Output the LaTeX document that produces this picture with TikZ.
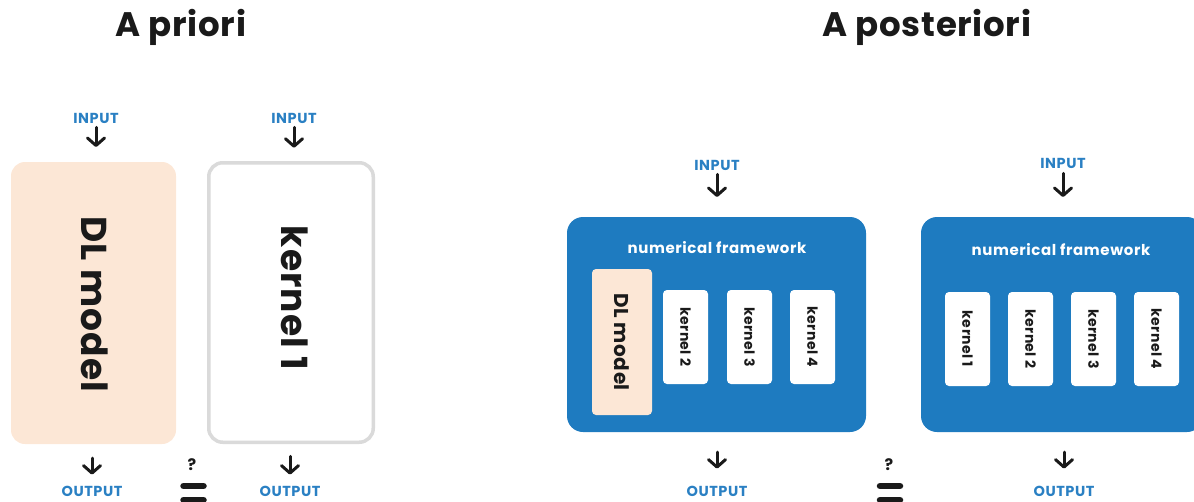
\documentclass[tikz,border=0pt]{standalone}
\usepackage{fontspec}
\setmainfont{Poppins}
\usetikzlibrary{arrows.meta}
\definecolor{fwblue}{HTML}{1E7BC0}
\definecolor{inblue}{HTML}{2A80C3}
\definecolor{peach}{HTML}{FCE7D6}
\definecolor{lgray}{HTML}{DADADA}
\definecolor{ink}{HTML}{1A1A1A}
\begin{document}
\begin{tikzpicture}[x=1pt,y=-1pt,
  title/.style={font=\fontsize{34}{40}\selectfont\bfseries\addfontfeatures{LetterSpace=2}, text=ink, inner sep=0},
  iolabel/.style={font=\fontsize{14.5}{17}\selectfont\bfseries\addfontfeatures{LetterSpace=4}, text=inblue, inner sep=0},
  fwtitle/.style={font=\fontsize{15}{18}\selectfont\bfseries\addfontfeatures{LetterSpace=4}, text=white, inner sep=0},
  bigtxt/.style={font=\fontsize{36}{43}\selectfont\bfseries\addfontfeatures{LetterSpace=3}, text=ink, rotate=-90, inner sep=0},
  smalltxt/.style={font=\fontsize{14}{17}\selectfont\bfseries\addfontfeatures{LetterSpace=3}, text=ink, rotate=-90, inner sep=0},
  midtxt/.style={font=\fontsize{20}{24}\selectfont\bfseries\addfontfeatures{LetterSpace=3}, text=ink, rotate=-90, inner sep=0},
  peachbox/.style={fill=peach, rounded corners=14, inner sep=0, outer sep=0},
  kbox/.style={fill=white, rounded corners=4, minimum width=45, minimum height=94, inner sep=0, outer sep=0},
  fwbox/.style={fill=fwblue, rounded corners=16, minimum height=215, inner sep=0, outer sep=0},
  arr/.style={draw=ink, line width=3, line cap=round, -{Straight Barb[length=7.5,width=17,line cap=round,line join=round]}},
  eqbar/.style={draw=ink, line width=6.5, line cap=round},
  qmark/.style={font=\fontsize{16}{19}\selectfont\bfseries, text=ink, inner sep=0}]
\useasboundingbox (0,0) rectangle (1194,501);
\clip (0,0) rectangle (1194,501);

% titles
\node[title] (t1) at (181,27) {A priori};
\node[title] (t2) at (927,27) {A posteriori};

% ---- A priori ----
\node[peachbox, minimum width=165, minimum height=282] (dl) at (93.5,303) {};
\node[bigtxt] (dltxt) at (95,304) {DL model};
\node[draw=lgray, line width=3.5, fill=white, rounded corners=14, minimum width=164.5, minimum height=279.5, inner sep=0, outer sep=0] (k1) at (291,302.5) {};
\node[bigtxt] (k1txt) at (295,298) {kernel 1};

\node[iolabel] (in1) at (96,118) {INPUT};
\node[iolabel] (in2) at (294,118) {INPUT};
\node[iolabel] (out1) at (92,491) {OUTPUT};
\node[iolabel] (out2) at (290,491) {OUTPUT};

\draw[arr, shorten <=4, shorten >=15] (in1.south) -- (in1.south |- dl.north);
\draw[arr, shorten <=4, shorten >=15] (in2.south) -- (in2.south |- k1.north);
\draw[arr, shorten <=14, shorten >=11] (out1.north |- dl.south) -- (out1.north);
\draw[arr, shorten <=14, shorten >=11] (out2.north |- k1.south) -- (out2.north);

\node[qmark] (q1) at (192,465) {?};
\draw[eqbar] (183.5,486) -- (203.5,486);
\draw[eqbar] (183.5,500) -- (203.5,500);

% ---- A posteriori: framework 1 ----
\node[fwbox, minimum width=299] (fw1) at (716.5,324.5) {};
\node[fwtitle] (fw1t) at (717,248) {numerical framework};
\node[fill=peach, rounded corners=4, minimum width=60, minimum height=146, inner sep=0, outer sep=0] (dls) at (622,342) {};
\node[midtxt] at (dls) {DL model};
\node[kbox] (a2) at (685.5,337) {};
\node[smalltxt] at (a2) {kernel 2};
\node[kbox] (a3) at (749.5,337) {};
\node[smalltxt] at (a3) {kernel 3};
\node[kbox] (a4) at (812.5,337) {};
\node[smalltxt] at (a4) {kernel 4};

\node[iolabel] (in3) at (717,165) {INPUT};
\node[iolabel] (out3) at (717,491) {OUTPUT};
\draw[arr, shorten <=4, shorten >=20] (in3.south) -- (in3.south |- fw1.north);
\draw[arr, shorten <=20, shorten >=17] (out3.north |- fw1.south) -- (out3.north);

\node[qmark] (q2) at (889,465) {?};
\draw[eqbar] (880,486) -- (900,486);
\draw[eqbar] (880,500) -- (900,500);

% ---- A posteriori: framework 2 ----
\node[fwbox, minimum width=282] (fw2) at (1062,324.5) {};
\node[fwtitle] (fw2t) at (1061,250) {numerical framework};
\node[kbox] (b1) at (967.5,339) {};
\node[smalltxt] at (b1) {kernel 1};
\node[kbox] (b2) at (1030.5,339) {};
\node[smalltxt] at (b2) {kernel 2};
\node[kbox] (b3) at (1093.5,339) {};
\node[smalltxt] at (b3) {kernel 3};
\node[kbox] (b4) at (1156.5,339) {};
\node[smalltxt] at (b4) {kernel 4};

\node[iolabel] (in4) at (1063,163) {INPUT};
\node[iolabel] (out4) at (1064,491) {OUTPUT};
\draw[arr, shorten <=5, shorten >=20] (in4.south) -- (in4.south |- fw2.north);
\draw[arr, shorten <=20, shorten >=17] (out4.north |- fw2.south) -- (out4.north);
\end{tikzpicture}
\end{document}
